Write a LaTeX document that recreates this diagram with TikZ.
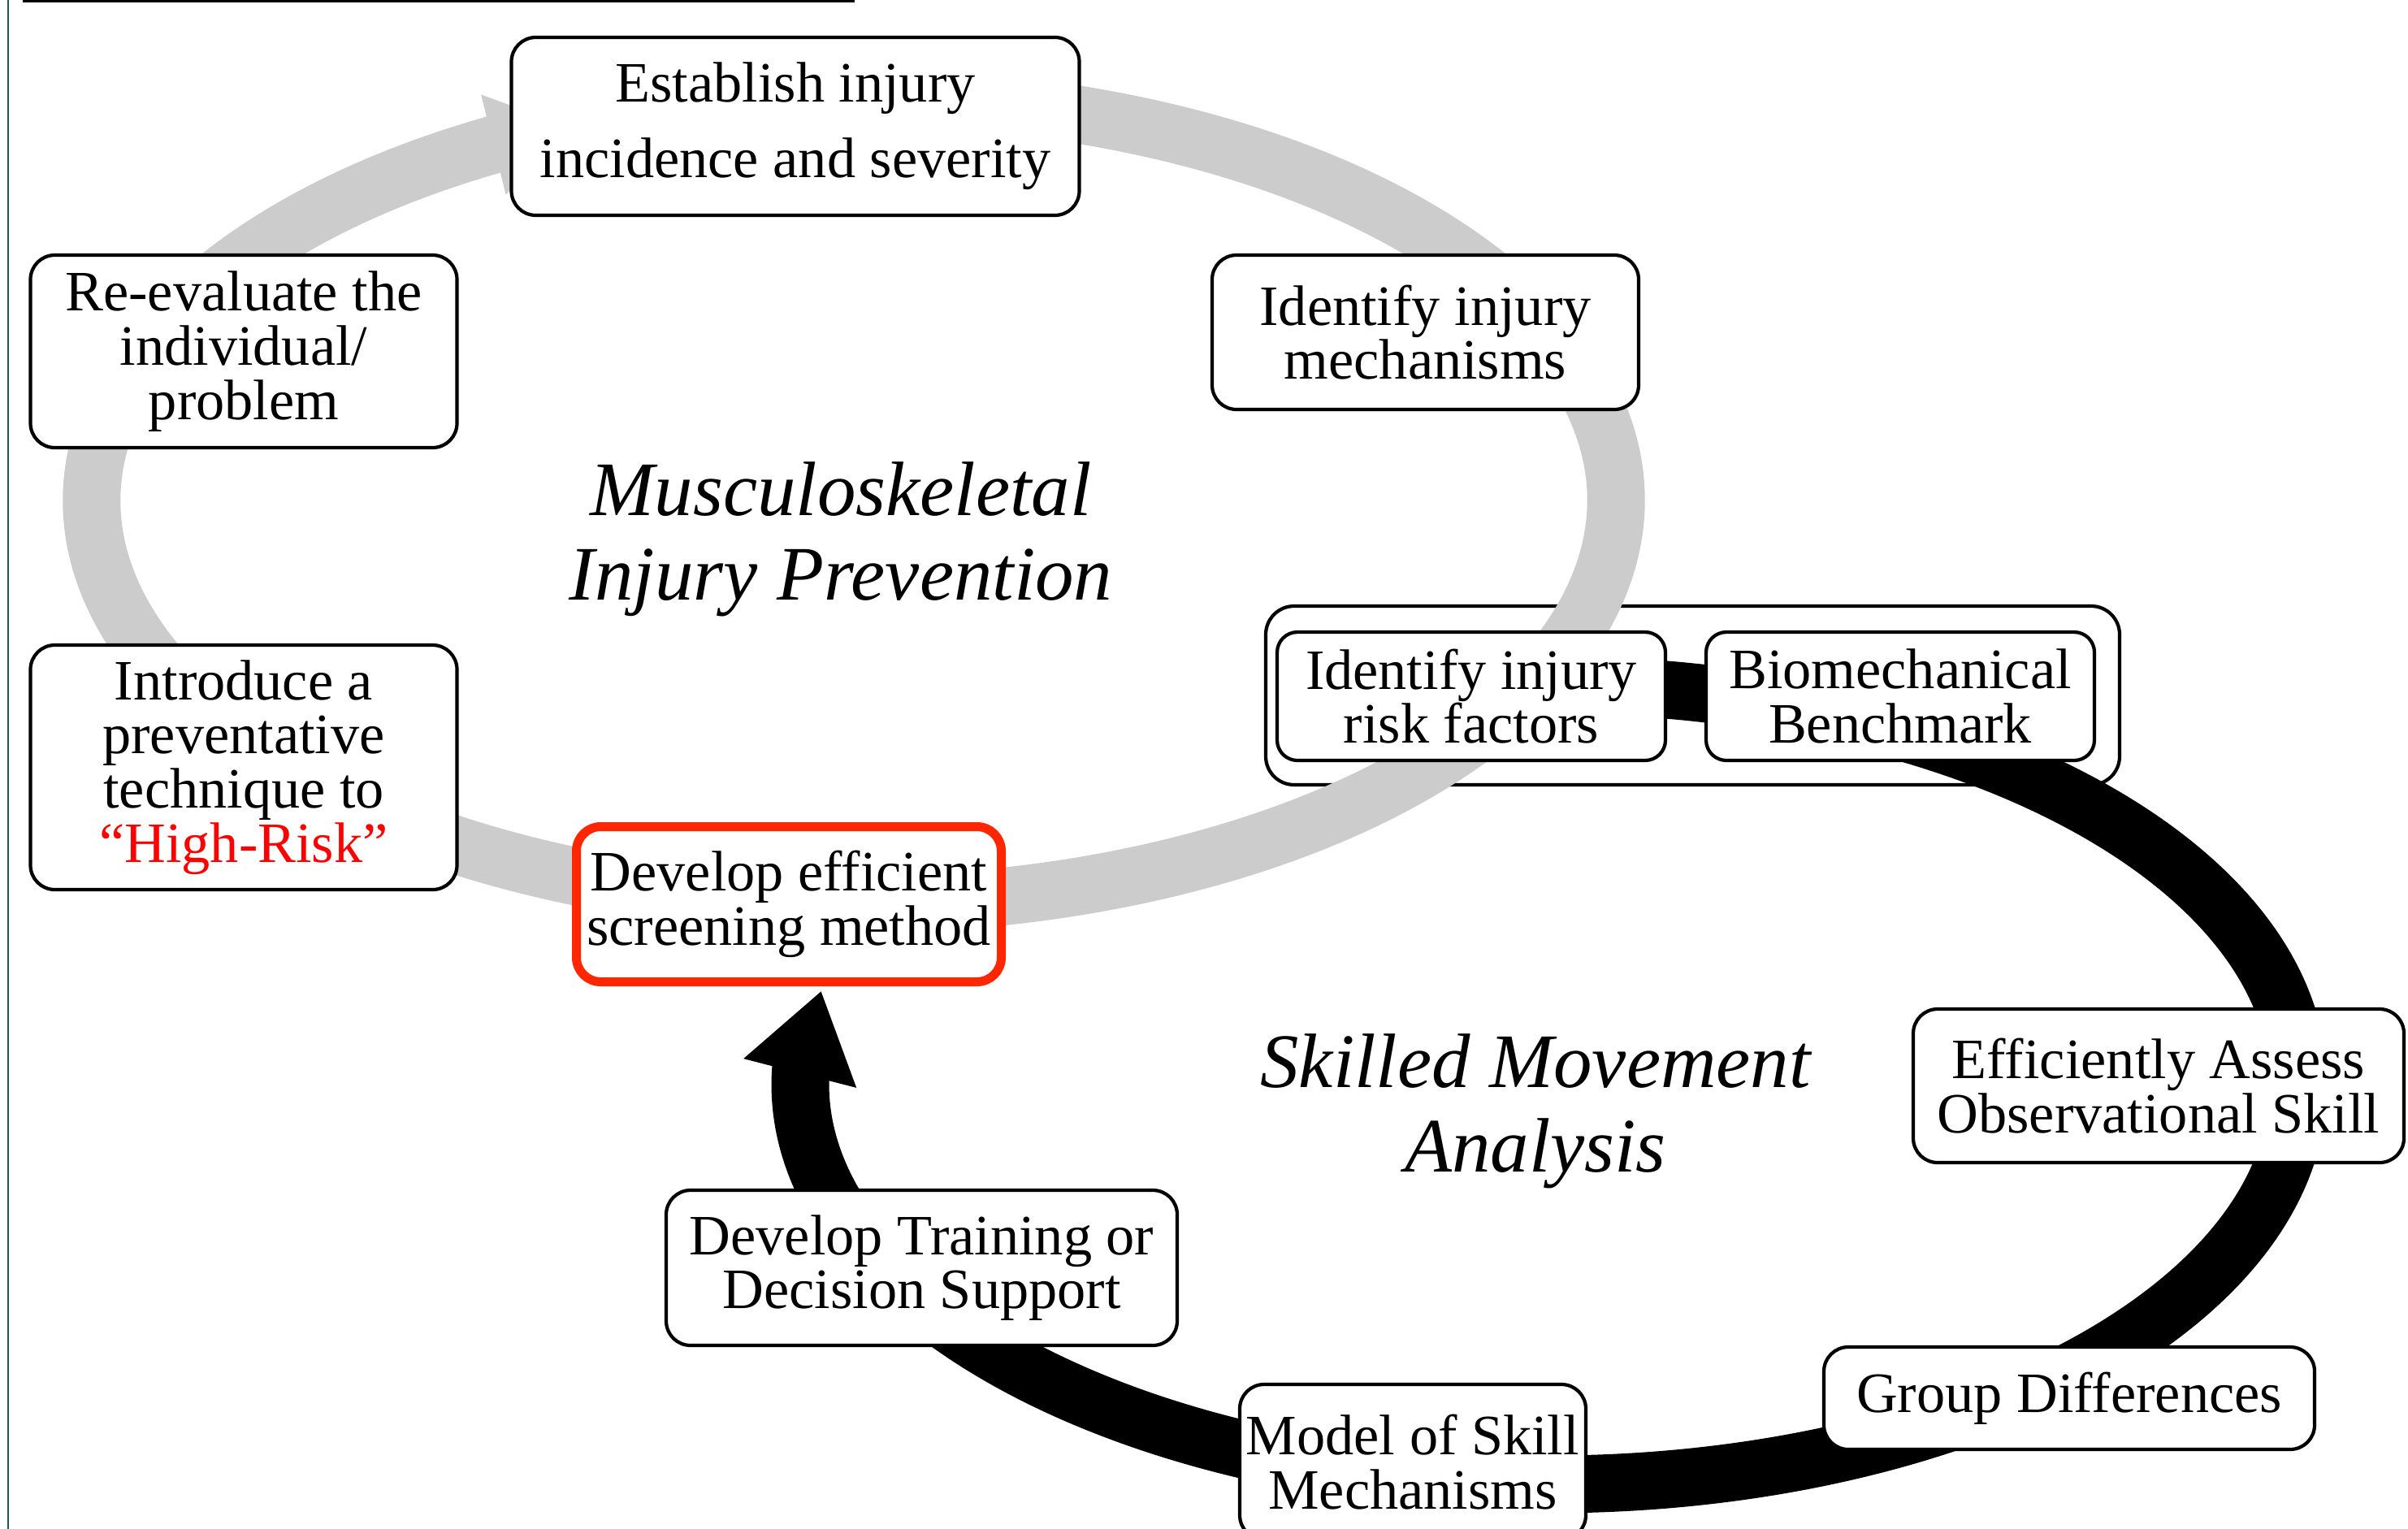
\documentclass[tikz,border=0pt]{standalone}
\usepackage{fontspec}
\setmainfont{Liberation Serif}
\usetikzlibrary{arrows.meta,bending}
\definecolor{ringgray}{RGB}{204,204,204}
\definecolor{screenred}{RGB}{255,38,0}
\definecolor{riskred}{RGB}{255,0,0}
\definecolor{edgegreen}{RGB}{28,92,70}

\begin{document}
\begin{tikzpicture}[
    stage/.style={draw, line width=1.2pt, rounded corners=0.3cm, fill=white, align=center, inner sep=0pt, font=\fontsize{20}{19}\selectfont},
    title/.style={align=center, font=\fontsize{27}{29.5}\selectfont\itshape},
    ring/.style={line width=0.71cm}
  ]
  \useasboundingbox (0,0) rectangle (29.64,-18.82);

  % frame edges
  \fill (0.28,0) rectangle (10.52,-0.03);
  \draw[edgegreen, line width=0.02cm] (0.10,0) -- (0.10,-18.82);

  \coordinate (mskc) at (10.51,-6.16);
  \coordinate (smac) at (19.07,-13.35);

  % box round the linked pair
  \node[draw, line width=1.2pt, rounded corners=0.35cm, minimum width=10.51cm, minimum height=2.20cm] (pair) at (20.835,-8.56) {};

  % the two cycles
  \draw[ring, ringgray, -{Triangle[width=1.2cm,length=0.95cm]}] (mskc) ++(75:9.38 and 4.97) arc[start angle=75, end angle=-248, x radius=9.38, y radius=4.97];
  \draw[ring, black, -{Triangle[width=1.36cm,length=1.05cm]}] (smac) ++(88:9.22 and 4.92) arc[start angle=88, end angle=-193.6, x radius=9.22, y radius=4.92];

  \node[stage, minimum width=6.99cm, minimum height=2.19cm, font=\fontsize{20}{26.5}\selectfont] (est) at (9.79,-1.555) {Establish injury\\incidence and severity};
  \node[stage, minimum width=5.25cm, minimum height=2.37cm] (reeval) at (3.00,-4.325) {Re-evaluate the\\individual/\\problem};
  \node[stage, minimum width=5.25cm, minimum height=3.01cm] (intro) at (3.00,-9.445) {Introduce a\\preventative\\technique to\\\textcolor{riskred}{``High-Risk''}};
  \node[stage, minimum width=5.25cm, minimum height=1.90cm] (mech) at (17.545,-4.09) {Identify injury\\mechanisms};
  \node[stage, rounded corners=0.25cm, minimum width=4.78cm, minimum height=1.58cm] (risk) at (18.11,-8.57) {Identify injury\\risk factors};
  \node[stage, rounded corners=0.25cm, minimum width=4.78cm, minimum height=1.58cm] (bench) at (23.39,-8.57) {Biomechanical\\Benchmark};
  \node[stage, draw=screenred, line width=0.11cm, minimum width=5.23cm, minimum height=1.91cm] (screen) at (9.71,-11.13) {Develop efficient\\screening method};
  \node[stage, minimum width=6.29cm, minimum height=1.91cm] (train) at (11.345,-15.605) {Develop Training or\\Decision Support};
  \node[stage, minimum width=4.26cm, minimum height=1.91cm] (model) at (17.39,-17.995) {Model of Skill\\Mechanisms};
  \node[stage, minimum width=6.04cm, minimum height=1.26cm] (diff) at (25.47,-17.21) {Group Differences};
  \node[stage, minimum width=6.04cm, minimum height=1.89cm] (assess) at (26.57,-13.365) {Efficiently Assess\\Observational Skill};

  \node[title] (msk) at (10.35,-6.64) {Musculoskeletal\\Injury Prevention};
  \node[title] (sma) at (18.9,-13.68) {Skilled Movement\\Analysis};
\end{tikzpicture}
\end{document}
